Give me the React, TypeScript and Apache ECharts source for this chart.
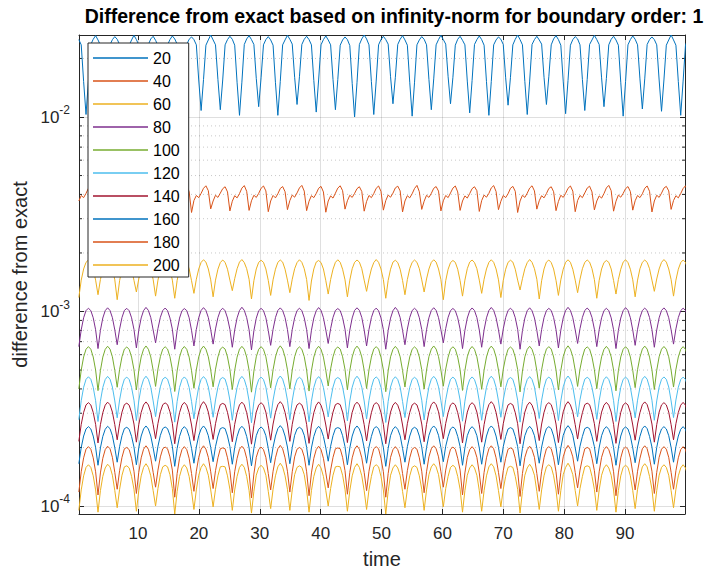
import React, { useEffect, useRef } from "react";
import * as echarts from "echarts";

const TITLE = "Difference from exact based on infinity-norm for boundary order: 1";
const X_NAME = "time";
const Y_NAME = "difference from exact";
const NAMES = ["20", "40", "60", "80", "100", "120", "140", "160", "180", "200"];
const COLORS = ["#0072BD", "#D95319", "#EDB120", "#7E2F8E", "#77AC30", "#4DBEEE", "#A2142F", "#0072BD", "#D95319", "#EDB120"];
const X_TICKS = [10, 20, 30, 40, 50, 60, 70, 80, 90];
const X_MIN = 0.31;
const X_MAX = 99.85;
const Y_MIN = 9.1e-5;
const Y_MAX = 0.0264;
const MINOR_Y = [2e-4, 3e-4, 4e-4, 5e-4, 6e-4, 7e-4, 8e-4, 9e-4, 2e-3, 3e-3, 4e-3, 5e-3, 6e-3, 7e-3, 8e-3, 9e-3, 2e-2];
// time samples: uniform sampling of the simulation output (start, step)
const T_START = 0.282;
const T_STEP = 0.39388;
// values below are in units of 1e-6
const UNIT = 1e-6;

const E20 = [
25000,23500,15200,10300,15300,23600,25100,26200,
24900,23400,15600,10900,15700,23500,25000,25900,
25100,23600,15900,11200,15800,23400,24900,26300,
25000,23500,15400,10600,15500,23600,25200,26000,
24800,23300,15300,10400,15400,23500,25000,26100,
25200,23700,16000,11500,16000,23600,25100,25800,
25000,23500,15500,10800,15600,23400,24900,26400,
24900,23500,15600,10900,15500,23500,25000,26000,
25100,23400,15000,10200,15100,23600,25200,26200,
25000,23600,15800,11300,15900,23500,25000,25900,
24900,23400,15000,10200,15200,23500,24900,26300,
25100,23700,16000,11600,16100,23600,25100,26000,
25000,23500,15400,10600,15500,23500,25000,26100,
24900,23500,15600,10900,15600,23400,24900,25800,
25000,23300,14900,10000,15000,23600,25200,26400,
25200,23500,15200,10300,15300,23500,25000,26000,
25000,23700,16100,11700,16000,23600,25100,26200,
24900,23400,15100,10100,15100,23500,24900,25900,
25100,23500,15600,10900,15700,23500,25000,26300,
25000,23700,16100,11700,16000,23400,25100,26000,
24800,23500,15300,10500,15400,23600,25000,26100,
25000,23400,15200,10200,15200,23500,24900,25800,
25100,23600,15900,11500,16000,23500,25100,26400,
25000,23500,15200,10300,15300,23600,25000,26000,
24900,23700,16000,11600,16100,23500,25200,26200,
25000,23400,15300,10400,15400,23400,25000,25900,
25200,23500,15600,10800,15600,23600,24900,26300,
25000,23600,15900,11300,15800,23500,25100,26000,
24900,23400,15100,10100,15200,23500,25000,26100,
25100,23500,15700,11000,15700,23600,25000,25800,
25000,23500,15500,10700,15500,23400,24900,26400,
24900,23400,15200,10200,15300,23500,25000,26000,
];

const E40 = [
3700,3950,3850,4050,4300,4420,4150,3300,
3720,3940,3840,4040,4290,4400,4130,3250,
3690,3960,3860,4060,4310,4440,4170,3350,
3710,3950,3850,4030,4280,4380,4120,3280,
3700,3970,3870,4070,4320,4450,4160,3320,
3680,3930,3830,4040,4290,4410,4140,3230,
3720,3950,3850,4050,4300,4430,4180,3370,
3700,3960,3860,4060,4280,4380,4120,3290,
3690,3940,3840,4040,4310,4440,4150,3310,
3710,3960,3860,4050,4300,4420,4170,3260,
3700,3950,3840,4030,4290,4390,4130,3340,
3720,3970,3870,4070,4320,4450,4160,3300,
3690,3940,3850,4040,4300,4400,4120,3240,
3700,3930,3830,4060,4310,4430,4180,3360,
3710,3960,3860,4050,4280,4380,4140,3280,
3680,3950,3850,4040,4300,4420,4150,3320,
3720,3970,3870,4060,4320,4410,4170,3250,
3700,3940,3840,4030,4290,4450,4130,3350,
3690,3960,3860,4050,4300,4390,4160,3290,
3710,3950,3850,4070,4310,4420,4120,3310,
3700,3930,3830,4040,4280,4380,4180,3270,
3720,3970,3870,4050,4320,4440,4140,3340,
3690,3950,3850,4030,4300,4400,4150,3230,
3700,3960,3860,4060,4310,4430,4170,3360,
3710,3940,3840,4040,4290,4380,4130,3300,
3680,3960,3860,4050,4300,4420,4160,3260,
3720,3950,3850,4070,4310,4410,4120,3330,
3700,3930,3830,4040,4320,4450,4180,3280,
3690,3970,3870,4050,4280,4390,4140,3320,
3710,3950,3850,4030,4300,4420,4150,3250,
3700,3960,3860,4060,4310,4400,4170,3350,
3720,3940,3840,4040,4290,4430,4130,3290,
];

const E60 = [
1180,1450,1655,1790,1840,1790,1655,1450,
1220,1460,1650,1795,1845,1785,1650,1455,
1150,1440,1660,1790,1835,1795,1660,1445,
1260,1470,1655,1785,1850,1790,1655,1460,
1200,1450,1650,1795,1840,1785,1650,1450,
1170,1445,1660,1790,1830,1790,1660,1440,
1240,1465,1655,1790,1845,1795,1655,1455,
1190,1450,1650,1785,1840,1790,1650,1450,
1280,1475,1660,1795,1850,1785,1660,1465,
1160,1440,1655,1790,1835,1790,1655,1445,
1210,1455,1650,1790,1840,1795,1650,1450,
1250,1465,1660,1785,1845,1790,1660,1460,
1140,1435,1655,1795,1830,1785,1655,1440,
1230,1460,1650,1790,1845,1790,1650,1455,
1190,1450,1660,1790,1840,1795,1660,1450,
1270,1470,1655,1785,1850,1790,1655,1460,
1170,1445,1650,1795,1835,1785,1650,1445,
1220,1460,1660,1790,1840,1790,1660,1455,
1260,1470,1655,1790,1845,1795,1655,1460,
1150,1440,1650,1785,1830,1790,1650,1440,
1200,1450,1660,1795,1840,1785,1660,1450,
1240,1465,1655,1790,1845,1790,1655,1455,
1180,1445,1650,1790,1835,1795,1650,1450,
1290,1475,1660,1785,1850,1790,1660,1465,
1160,1440,1655,1795,1840,1785,1655,1445,
1210,1455,1650,1790,1845,1790,1650,1450,
1250,1465,1660,1790,1840,1795,1660,1460,
1170,1445,1655,1785,1830,1790,1655,1445,
1230,1460,1650,1795,1845,1785,1650,1455,
1190,1450,1660,1790,1840,1790,1660,1450,
1270,1470,1655,1790,1850,1795,1655,1460,
1200,1450,1650,1785,1840,1790,1650,1450,
];

const E80 = [
660,806,929,1011,1040,1011,929,806,
645,800,926,1010,1045,1012,930,804,
675,812,932,1013,1038,1009,928,809,
650,802,927,1011,1050,1014,931,803,
690,818,934,1012,1042,1010,927,812,
640,798,925,1009,1036,1011,929,800,
665,808,930,1013,1047,1013,932,807,
680,814,931,1011,1040,1009,926,810,
655,804,928,1012,1052,1014,930,805,
635,796,924,1010,1038,1011,929,799,
670,810,931,1013,1044,1012,931,808,
660,806,929,1011,1040,1010,928,806,
645,800,926,1009,1048,1013,930,803,
685,816,933,1012,1036,1011,929,811,
650,802,927,1013,1045,1014,932,804,
665,808,930,1011,1041,1009,927,807,
640,798,925,1010,1050,1012,931,801,
675,812,932,1012,1039,1011,929,809,
660,806,929,1013,1046,1013,930,806,
690,818,934,1011,1037,1010,928,812,
645,800,926,1009,1043,1012,931,803,
655,804,928,1012,1049,1014,929,805,
680,814,931,1013,1040,1011,930,810,
640,798,925,1010,1045,1009,927,800,
665,808,930,1011,1038,1012,931,807,
650,802,927,1012,1051,1013,929,804,
685,816,933,1013,1042,1011,932,811,
660,806,929,1011,1039,1010,928,806,
645,800,926,1010,1047,1014,930,803,
670,810,931,1012,1041,1012,931,808,
655,804,928,1013,1044,1011,929,805,
680,814,931,1011,1040,1013,930,810,
];

const E100 = [
400,500,584,640,660,640,584,500,
392,497,583,639,663,641,585,498,
408,504,585,641,657,639,583,502,
395,498,584,640,665,640,584,499,
412,506,586,641,659,641,586,503,
388,495,583,639,661,639,583,497,
403,501,585,640,664,640,585,501,
410,505,584,641,656,641,584,503,
397,499,583,640,662,640,583,499,
385,494,585,639,660,639,585,496,
405,502,584,641,666,641,584,502,
400,500,586,640,658,640,586,500,
390,496,583,639,663,639,583,497,
414,507,585,641,657,641,585,504,
396,498,584,640,664,640,584,499,
402,501,583,641,660,641,583,501,
387,495,585,639,662,639,585,497,
409,504,584,640,658,640,584,502,
399,500,586,641,665,641,586,500,
413,506,583,640,659,640,583,503,
393,497,585,639,661,639,585,498,
398,499,584,641,664,641,584,500,
410,505,583,640,657,640,583,503,
386,494,585,639,663,639,585,496,
404,502,584,641,660,641,584,501,
395,498,586,640,666,640,586,499,
412,506,583,641,658,641,583,503,
401,500,585,639,662,639,585,500,
391,496,584,640,659,640,584,498,
406,503,583,641,664,641,583,502,
397,499,585,640,661,640,585,499,
409,504,584,639,660,639,584,502,
];

const E120 = [
278,348,408,448,462,448,408,348,
272,346,407,447,464,449,409,347,
284,351,409,449,460,447,407,350,
275,347,408,448,465,448,408,347,
288,352,410,449,459,449,410,351,
270,345,407,447,461,447,407,345,
281,349,409,448,463,448,409,349,
286,351,408,449,458,449,408,350,
276,347,407,448,464,448,407,347,
268,344,409,447,460,447,409,345,
283,350,408,449,466,449,408,350,
278,348,410,448,459,448,410,348,
271,346,407,447,463,447,407,346,
287,352,409,449,458,449,409,351,
274,347,408,448,465,448,408,347,
280,349,407,449,461,449,407,349,
269,345,409,447,462,447,409,345,
285,351,408,448,459,448,408,350,
277,348,410,449,464,449,410,348,
288,352,407,448,460,448,407,351,
273,346,409,447,461,447,409,346,
276,347,408,449,465,449,408,347,
286,351,407,448,458,448,407,350,
270,345,409,447,463,447,409,345,
282,350,408,449,460,449,408,349,
275,347,410,448,466,448,410,347,
287,352,407,449,459,449,407,351,
279,348,409,447,462,447,409,348,
272,346,408,448,460,448,408,346,
284,350,407,449,464,449,407,350,
276,347,409,448,461,448,409,347,
285,351,408,447,460,447,408,350,
];

const E140 = [
215,263,303,331,340,331,303,263,
211,262,302,330,342,332,304,262,
219,265,304,332,338,330,302,264,
213,262,303,331,343,331,303,262,
222,266,305,332,339,332,305,266,
209,261,302,330,341,330,302,261,
217,264,304,331,344,331,304,263,
220,265,303,332,337,332,303,265,
214,263,302,331,342,331,302,262,
208,260,304,330,340,330,304,260,
218,264,303,332,344,332,303,264,
215,263,305,331,338,331,305,263,
210,261,302,330,343,330,302,261,
221,266,304,332,337,332,304,265,
212,262,303,331,342,331,303,262,
216,263,302,332,340,332,302,263,
209,261,304,330,341,330,304,261,
219,265,303,331,338,331,303,264,
214,263,305,332,343,332,305,263,
222,266,302,331,339,331,302,266,
211,262,304,330,340,330,304,262,
213,262,303,332,344,332,303,262,
220,265,302,331,337,331,302,265,
209,261,304,330,342,330,304,261,
217,264,303,332,340,332,303,264,
212,262,305,331,344,331,305,262,
221,266,302,332,338,332,302,265,
215,263,304,330,341,330,304,263,
210,261,303,331,339,331,303,261,
218,264,302,332,343,332,302,264,
213,262,304,331,340,331,304,262,
219,265,303,330,341,330,303,264,
];

const E160 = [
165,200,229,249,256,249,229,200,
162,199,228,248,257,250,230,199,
168,202,230,250,254,248,228,201,
163,199,229,249,258,249,229,199,
170,203,231,250,255,250,231,203,
160,198,228,248,256,248,228,198,
166,201,230,249,258,249,230,200,
169,202,229,250,253,250,229,202,
164,200,228,249,257,249,228,199,
161,198,230,248,255,248,230,198,
167,201,229,250,259,250,229,201,
165,200,231,249,254,249,231,200,
162,199,228,248,257,248,228,199,
170,203,230,250,253,250,230,202,
163,199,229,249,258,249,229,199,
166,201,228,250,256,250,228,200,
160,198,230,248,256,248,230,198,
168,202,229,249,254,249,229,201,
164,200,231,250,258,250,231,200,
169,203,228,249,255,249,228,202,
162,199,230,248,256,248,230,199,
164,200,229,250,258,250,229,200,
168,202,228,249,253,249,228,202,
161,198,230,248,257,248,230,198,
166,201,229,250,256,250,229,201,
163,199,231,249,259,249,231,199,
170,203,228,250,254,250,228,202,
165,200,230,248,256,248,230,200,
162,199,229,249,255,249,229,199,
167,201,228,250,258,250,228,201,
164,200,230,249,256,249,230,200,
168,202,229,248,256,248,229,201,
];

const E180 = [
118,150,177,196,202,196,177,150,
114,148,176,195,203,197,178,149,
122,152,178,197,200,195,176,151,
116,149,177,196,204,196,177,149,
125,153,179,197,201,197,179,153,
111,147,176,195,202,195,176,147,
119,151,178,196,204,196,178,150,
123,152,177,197,199,197,177,152,
117,150,176,196,203,196,176,149,
110,146,178,195,201,195,178,147,
121,151,177,197,205,197,177,151,
118,150,179,196,200,196,179,150,
113,148,176,195,203,195,176,148,
124,153,178,197,199,197,178,152,
115,149,177,196,204,196,177,149,
120,151,176,197,202,197,176,150,
111,147,178,195,202,195,178,147,
122,152,177,196,200,196,177,151,
117,150,179,197,204,197,179,150,
125,153,176,196,201,196,176,153,
114,148,178,195,202,195,178,148,
116,149,177,197,204,197,177,149,
123,152,176,196,199,196,176,152,
112,147,178,195,203,195,178,147,
119,151,177,197,202,197,177,150,
115,149,179,196,205,196,179,149,
124,153,176,197,200,197,176,152,
118,150,178,195,202,195,178,150,
113,148,177,196,201,196,177,148,
121,151,176,197,204,197,176,151,
116,149,178,196,202,196,178,149,
122,152,177,195,202,195,177,151,
];

const E200 = [
95,121,143,158,163,158,143,121,
93,120,142,157,164,159,144,120,
98,122,144,159,161,157,142,122,
94,120,143,158,165,158,143,120,
100,123,145,159,162,159,145,123,
91,119,142,157,163,157,142,119,
96,121,144,158,165,158,144,121,
99,122,143,159,160,159,143,122,
95,121,142,158,164,158,142,120,
92,119,144,157,162,157,144,119,
97,122,143,159,166,159,143,122,
95,121,145,158,161,158,145,121,
93,120,142,157,164,157,142,120,
100,123,144,159,160,159,144,122,
94,120,143,158,165,158,143,120,
96,121,142,159,163,159,142,121,
91,119,144,157,163,157,144,119,
98,122,143,158,161,158,143,122,
95,121,145,159,165,159,145,121,
99,123,142,158,162,158,142,122,
93,120,144,157,163,157,144,120,
94,120,143,159,165,159,143,120,
99,122,142,158,160,158,142,122,
92,119,144,157,164,157,144,119,
96,121,143,159,163,159,143,121,
94,120,145,158,166,158,145,120,
100,123,142,159,161,159,142,122,
95,121,144,157,163,157,144,121,
93,120,143,158,162,158,143,120,
97,122,142,159,165,159,142,122,
94,120,144,158,163,158,144,120,
98,122,143,157,163,157,143,121,
];

const SERIES_VALUES = [E20, E40, E60, E80, E100, E120, E140, E160, E180, E200];

const FONT = '"Liberation Sans", Arial, Helvetica, sans-serif';
const AX = "#262626";
const GRID_LEFT = 79;
const GRID_RIGHT = 23;
const GRID_TOP = 35;
const GRID_BOTTOM = 62;

function buildOption() {
  const time = SERIES_VALUES[0].map((_, i) => T_START + i * T_STEP);
  const isDecade = (v: number) => {
    const l = Math.log10(v);
    return Math.abs(l - Math.round(l)) < 1e-6;
  };
  const lineSeries = NAMES.map((name, k) => ({
    name,
    type: "line",
    xAxisIndex: 0,
    yAxisIndex: 0,
    showSymbol: false,
    symbol: "none",
    clip: true,
    z: 3,
    color: COLORS[k],
    lineStyle: { width: 1, color: COLORS[k] },
    data: SERIES_VALUES[k].map((v, i) => [time[i], v * UNIT]),
  }));
  const minorSeries = {
    name: "minor",
    type: "custom",
    xAxisIndex: 0,
    yAxisIndex: 0,
    z: 1,
    silent: true,
    data: MINOR_Y.map((v) => [X_MIN, v]),
    renderItem: (params: any, api: any) => {
      const v = api.value(1);
      const p0 = api.coord([X_MIN, v]);
      const p1 = api.coord([X_MAX, v]);
      return {
        type: "group",
        children: [
          {
            type: "line",
            shape: { x1: p0[0], y1: p0[1], x2: p1[0], y2: p1[1] },
            style: { stroke: "rgba(38,38,38,0.25)", lineWidth: 1, lineDash: [1, 3] },
          },
          {
            type: "line",
            shape: { x1: p0[0], y1: p0[1], x2: p0[0] + 3, y2: p0[1] },
            style: { stroke: AX, lineWidth: 1 },
          },
          {
            type: "line",
            shape: { x1: p1[0] - 3, y1: p1[1], x2: p1[0], y2: p1[1] },
            style: { stroke: AX, lineWidth: 1 },
          },
        ],
      };
    },
  };
  const xBase = {
    type: "value",
    min: X_MIN,
    max: X_MAX,
    splitNumber: 10,
    axisLine: { show: true, onZero: false, lineStyle: { color: AX, width: 1 } },
    axisTick: { show: true, inside: true, length: 5, lineStyle: { color: AX } },
  };
  const yBase = {
    type: "log",
    logBase: 10,
    min: Y_MIN,
    max: Y_MAX,
    axisLine: { show: true, onZero: false, lineStyle: { color: AX, width: 1 } },
    axisTick: { show: true, inside: true, length: 5, lineStyle: { color: AX } },
  };
  return {
    animation: false,
    backgroundColor: "#ffffff",
    grid: { left: GRID_LEFT, right: GRID_RIGHT, top: GRID_TOP, bottom: GRID_BOTTOM, containLabel: false },
    graphic: [
      {
        type: "text",
        x: 394,
        y: 16,
        style: {
          text: TITLE,
          fill: "#000000",
          font: `bold 19.5px ${FONT}`,
          textAlign: "center",
          textVerticalAlign: "middle",
          align: "center",
          verticalAlign: "middle",
        },
      },
    ],
    legend: {
      orient: "vertical",
      left: 88,
      top: 43,
      itemWidth: 55,
      itemHeight: 1.5,
      itemGap: 5,
      icon: "rect",
      padding: [6, 9, 3, 5],
      borderColor: AX,
      borderWidth: 1,
      backgroundColor: "#ffffff",
      selectedMode: false,
      data: NAMES,
      textStyle: { fontSize: 16, lineHeight: 18, color: "#000000", fontFamily: FONT },
    },
    xAxis: [
      {
        ...xBase,
        position: "bottom",
        name: X_NAME,
        nameLocation: "middle",
        nameGap: 35,
        nameTextStyle: { fontSize: 20, color: AX, fontFamily: FONT },
        axisLabel: {
          show: true,
          margin: 11,
          fontSize: 17,
          color: AX,
          fontFamily: FONT,
          formatter: (v: number) => (X_TICKS.indexOf(Math.round(v)) >= 0 && Math.abs(v - Math.round(v)) < 1e-6 ? String(Math.round(v)) : ""),
        },
        splitLine: { show: true, lineStyle: { color: "rgba(38,38,38,0.15)", width: 1 } },
      },
      {
        ...xBase,
        position: "top",
        axisLabel: { show: false },
        splitLine: { show: false },
      },
    ],
    yAxis: [
      {
        ...yBase,
        position: "left",
        name: Y_NAME,
        nameLocation: "middle",
        nameGap: 47,
        nameTextStyle: { fontSize: 20, color: AX, fontFamily: FONT },
        axisLabel: {
          show: true,
          margin: 9,
          color: AX,
          fontFamily: FONT,
          formatter: (v: number) => (isDecade(v) ? `{b|10}{e|${Math.round(Math.log10(v))}}` : ""),
          rich: {
            b: { fontSize: 17, color: AX, fontFamily: FONT, lineHeight: 26 },
            e: { fontSize: 12, color: AX, fontFamily: FONT, verticalAlign: "top" },
          },
        },
        splitLine: { show: true, lineStyle: { color: "rgba(38,38,38,0.15)", width: 1 } },
      },
      {
        ...yBase,
        position: "right",
        axisLabel: { show: false },
        splitLine: { show: false },
      },
    ],
    series: [minorSeries, ...lineSeries],
  };
}

export default function App() {
  const ref = useRef<HTMLDivElement>(null);
  useEffect(() => {
    if (!ref.current) return;
    const chart = echarts.init(ref.current, null, { renderer: "svg" });
    chart.setOption(buildOption() as any);
    return () => {
      chart.dispose();
    };
  }, []);
  return (
    <div
      ref={ref}
      style={{ position: "fixed", left: 0, top: 0, width: 708, height: 576, background: "#ffffff" }}
    />
  );
}
